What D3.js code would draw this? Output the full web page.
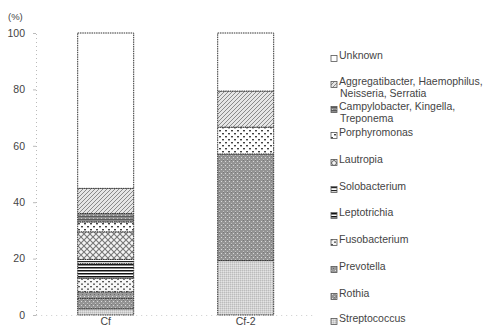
<!DOCTYPE html>
<html>
<head>
<meta charset="utf-8">
<script src="https://cdn.jsdelivr.net/npm/d3@7/dist/d3.min.js"></script>
<style>
  html, body { margin: 0; padding: 0; background: #fff; }
  svg { display: block; }
  text { font-family: "Liberation Sans", Arial, sans-serif; fill: #444; }
</style>
</head>
<body>
<svg id="chart" width="487" height="329"></svg>
<script>
// Samples shown as stacked bars
const categories = ["Cf", "Cf-2"];

// Genera, bottom of the stack first
const taxa = [
  "Streptococcus", "Rothia", "Prevotella", "Fusobacterium", "Leptotrichia",
  "Solobacterium", "Lautropia", "Porphyromonas",
  "Campylobacter, Kingella, Treponema",
  "Aggregatibacter, Haemophilus, Neisseria, Serratia",
  "Unknown"
];

// Relative abundance (%) per genus, one value per sample
const streptococcus   = [2.2, 19.3];
const rothia          = [3.7, 37.8];
const prevotella      = [2.3, 0];
const fusobacterium   = [4.8, 0];
const leptotrichia    = [5.2, 0];
const solobacterium   = [1.5, 0];
const lautropia       = [9.8, 0];
const porphyromonas   = [3.5, 9.5];
const campylobacter   = [3.0, 0];
const aggregatibacter = [8.9, 12.8];
const unknown         = [55.1, 20.6];

const yTicks = [0, 20, 40, 60, 80, 100];

// Legend labels (wrapped), top entry first
const legendLabels = [
  ["Unknown"],
  ["Aggregatibacter, Haemophilus,", "Neisseria, Serratia"],
  ["Campylobacter, Kingella,", "Treponema"],
  ["Porphyromonas"],
  ["Lautropia"],
  ["Solobacterium"],
  ["Leptotrichia"],
  ["Fusobacterium"],
  ["Prevotella"],
  ["Rothia"],
  ["Streptococcus"]
];

const seriesValues = [streptococcus, rothia, prevotella, fusobacterium, leptotrichia,
  solobacterium, lautropia, porphyromonas, campylobacter, aggregatibacter, unknown];

const rows = categories.map((c, i) => {
  const r = { sample: c };
  taxa.forEach((t, k) => { r[t] = seriesValues[k][i]; });
  return r;
});

const svg = d3.select("#chart");
const defs = svg.append("defs");

// Monochrome fill patterns, one per genus
function pat(id, w, h, bg, draw) {
  const p = defs.append("pattern").attr("id", id)
    .attr("patternUnits", "userSpaceOnUse").attr("width", w).attr("height", h);
  p.append("rect").attr("width", w).attr("height", h).attr("fill", bg);
  draw(p);
  return "url(#" + id + ")";
}

const fills = {};
fills["Unknown"] = "#ffffff";
fills["Aggregatibacter, Haemophilus, Neisseria, Serratia"] = pat("pAgg", 4, 4, "#e6e6e6", p => {
  p.append("path").attr("d", "M-1,5 L5,-1 M-1,1 L1,-1 M3,5 L5,3").attr("stroke", "#8a8a8a").attr("stroke-width", 1);
});
fills["Campylobacter, Kingella, Treponema"] = pat("pCamp", 4, 3, "#8c8c8c", p => {
  p.append("rect").attr("x", 0).attr("y", 0).attr("width", 4).attr("height", 1).attr("fill", "#5a5a5a");
  p.append("rect").attr("x", 1).attr("y", 2).attr("width", 1).attr("height", 1).attr("fill", "#c8c8c8");
});
fills["Porphyromonas"] = pat("pPorph", 6, 6, "#ffffff", p => {
  p.append("rect").attr("x", 0).attr("y", 1).attr("width", 2).attr("height", 1.4).attr("fill", "#444");
  p.append("rect").attr("x", 3).attr("y", 4).attr("width", 2).attr("height", 1.4).attr("fill", "#444");
});
fills["Lautropia"] = pat("pLaut", 6, 6, "#f4f4f4", p => {
  p.append("path").attr("d", "M0,0 L6,6 M6,0 L0,6").attr("stroke", "#777").attr("stroke-width", 1.1);
});
fills["Solobacterium"] = pat("pSolo", 4, 3, "#ffffff", p => {
  p.append("rect").attr("x", 0).attr("y", 0).attr("width", 4).attr("height", 1.2).attr("fill", "#222");
});
fills["Leptotrichia"] = pat("pLept", 4, 3, "#ffffff", p => {
  p.append("rect").attr("x", 0).attr("y", 0).attr("width", 4).attr("height", 1.5).attr("fill", "#111");
});
fills["Fusobacterium"] = pat("pFuso", 6, 5, "#f6f6f6", p => {
  p.append("rect").attr("x", 0).attr("y", 1).attr("width", 2).attr("height", 1.3).attr("fill", "#555");
  p.append("rect").attr("x", 3).attr("y", 3.5).attr("width", 2).attr("height", 1.3).attr("fill", "#555");
});
fills["Prevotella"] = pat("pPrev", 4, 4, "#9a9a9a", p => {
  p.append("rect").attr("x", 0).attr("y", 0).attr("width", 1).attr("height", 1).attr("fill", "#e0e0e0");
  p.append("rect").attr("x", 2).attr("y", 2).attr("width", 1).attr("height", 1).attr("fill", "#6a6a6a");
});
fills["Rothia"] = pat("pRoth", 4, 4, "#949494", p => {
  p.append("rect").attr("x", 1).attr("y", 1).attr("width", 1).attr("height", 1).attr("fill", "#dadada");
  p.append("rect").attr("x", 3).attr("y", 3).attr("width", 1).attr("height", 1).attr("fill", "#c4c4c4");
  p.append("rect").attr("x", 3).attr("y", 0).attr("width", 1).attr("height", 1).attr("fill", "#777");
});
fills["Streptococcus"] = pat("pStrep", 2, 2, "#d2d2d2", p => {
  p.append("rect").attr("x", 0).attr("y", 0).attr("width", 1).attr("height", 1).attr("fill", "#bcbcbc");
  p.append("rect").attr("x", 1).attr("y", 1).attr("width", 1).attr("height", 1).attr("fill", "#e4e4e4");
});

// Scales
const x = d3.scaleBand().domain(categories).range([35.7, 315.7])
  .paddingInner(0.6).paddingOuter(0.3);
const y = d3.scaleLinear().domain([0, 100]).range([315, 33]);

// Y axis: faint dotted line with short ticks
const yAxis = d3.axisLeft(y).tickValues(yTicks).tickSize(3).tickPadding(8);
const gy = svg.append("g").attr("transform", "translate(36,0)").call(yAxis);
gy.select(".domain").attr("stroke", "#bbb").attr("stroke-dasharray", "1,3");
gy.selectAll(".tick line").attr("stroke", "#bbb");
gy.selectAll(".tick text").attr("font-size", 10.5).attr("fill", "#444");

svg.append("text").attr("x", 8).attr("y", 20).attr("font-size", 9.5).text("(%)");

// Stacked bars
const stack = d3.stack().keys(taxa)(rows);
svg.append("g").selectAll("g").data(stack).join("g")
  .attr("fill", d => fills[d.key])
  .selectAll("rect").data(d => d.filter(s => s[1] - s[0] > 0)).join("rect")
  .attr("x", d => x(d.data.sample))
  .attr("y", d => y(d[1]))
  .attr("width", x.bandwidth())
  .attr("height", d => y(d[0]) - y(d[1]))
  .attr("stroke", "#333").attr("stroke-width", 1).attr("stroke-dasharray", "1.5,0.8");

// Baseline: faint dotted, sample names just beneath
const xAxis = d3.axisBottom(x).tickSize(0).tickPadding(3);
const gx = svg.append("g").attr("transform", "translate(0,315)").call(xAxis);
gx.select(".domain").attr("stroke", "#ccc").attr("stroke-dasharray", "1,4");
gx.selectAll(".tick text").attr("font-size", 10.5).attr("fill", "#444");

// Legend, top entry first
const legendY = [59, 85, 110, 136, 163, 190, 216, 243, 270, 297, 322];
const legendKeys = taxa.slice().reverse();
const lg = svg.append("g").selectAll("g").data(legendKeys).join("g")
  .attr("transform", (d, i) => `translate(331,${legendY[i]})`);
lg.append("rect").attr("x", 0).attr("y", -3.5).attr("width", 6).attr("height", 6)
  .attr("fill", d => fills[d]).attr("stroke", "#555").attr("stroke-width", 0.8);
lg.append("text").attr("x", 8).attr("y", 0).attr("dy", "0.35em").attr("font-size", 10.5)
  .selectAll("tspan").data((d, i) => legendLabels[i]).join("tspan")
  .attr("x", (t, j) => j === 0 ? 8 : 9).attr("dy", (t, j) => j === 0 ? 0 : 12)
  .text(t => t);
</script>
</body>
</html>
